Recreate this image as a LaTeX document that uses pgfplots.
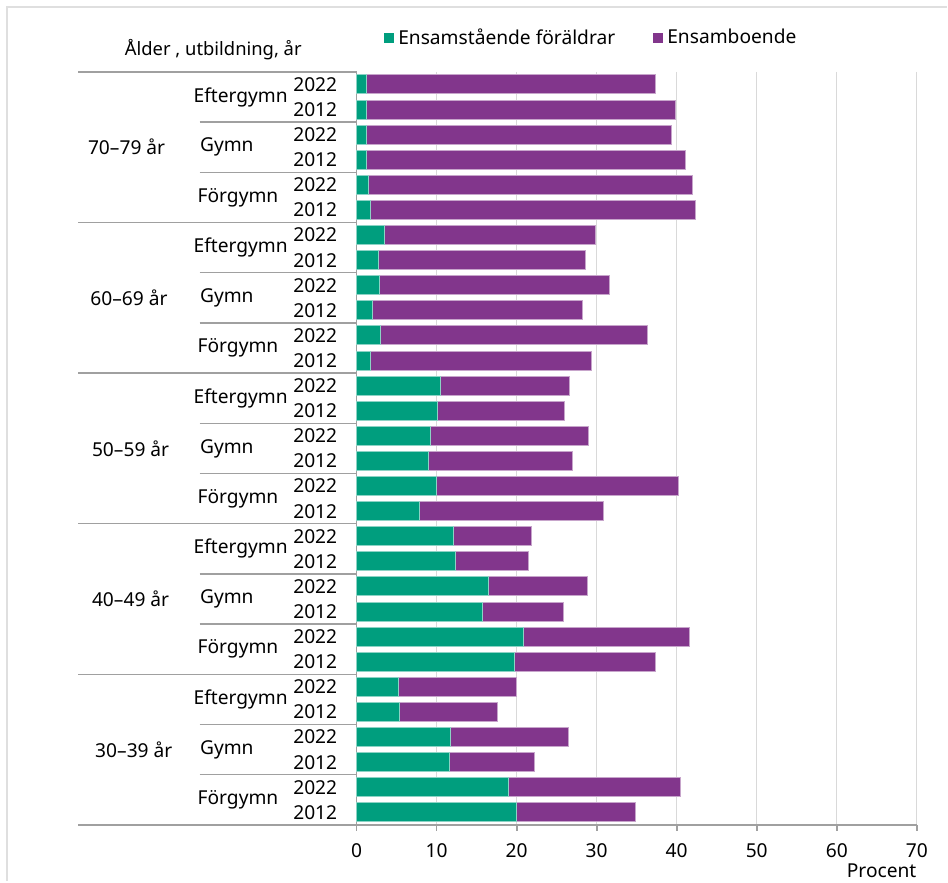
\documentclass[border=0pt]{standalone}
\usepackage{pgfplots}
\pgfplotsset{compat=1.18}
\usepackage{pgfplotstable}
\usepackage{fontspec}
\setmainfont{Noto Sans}

\definecolor{cgreen}{RGB}{0,158,126}
\definecolor{cpurple}{RGB}{130,54,140}
\definecolor{sepgray}{RGB}{160,160,160}
\definecolor{gridgray}{RGB}{217,217,217}

% rows from top: 70-79 Eftergymn 2022 ... 30-39 Forgymn 2012
\pgfplotstableread{
idx g     p
0   1.20  36.20
1   1.20  38.60
2   1.25  38.15
3   1.30  39.80
4   1.45  40.55
5   1.80  40.50
6   3.45  26.45
7   2.70  25.90
8   2.90  28.70
9   2.00  26.25
10  3.00  33.40
11  1.80  27.60
12  10.55 16.05
13  10.10 15.85
14  9.27  19.73
15  8.93  18.07
16  9.93  30.27
17  7.90  23.00
18  12.10 9.80
19  12.40 9.10
20  16.45 12.35
21  15.75 10.05
22  20.80 20.75
23  19.70 17.70
24  5.30  14.70
25  5.40  12.20
26  11.70 14.80
27  11.60 10.60
28  19.00 21.50
29  20.00 14.80
}\data

\begin{document}
\fontsize{9.6bp}{11.5bp}\selectfont
\begin{tikzpicture}
\begin{axis}[
    xbar stacked,
    width=280.5bp, height=377bp,
    scale only axis,
    clip=false,
    bar width=0.76,
    y dir=reverse,
    xmin=0, xmax=70,
    ymin=-0.5, ymax=29.5,
    xtick={0,10,...,70},
    ytick={0,...,29},
    yticklabels={2022,2012,2022,2012,2022,2012,2022,2012,2022,2012,
                 2022,2012,2022,2012,2022,2012,2022,2012,2022,2012,
                 2022,2012,2022,2012,2022,2012,2022,2012,2022,2012},
    axis x line*=bottom,
    axis y line*=left,
    axis line style={sepgray, line width=0.9bp, -},
    xmajorgrids,
    major grid style={gridgray, line width=0.6bp},
    x tick style={sepgray, line width=0.9bp},
    xtick align=outside,
    major tick length=3bp,
    y tick style={draw=none},
    /pgf/number format/assume math mode=true,
    ticklabel style={font=\fontsize{9.6bp}{11.5bp}\selectfont},
    xticklabel style={yshift=-5bp, inner sep=1pt},
    yticklabel style={xshift=-9.5bp, inner sep=0pt},
    xlabel={Procent},
    xlabel style={at={(rel axis cs:1,0)}, anchor=north east, inner sep=0pt, yshift=-19.5bp},
    legend style={at={(0.4207,1.045)}, anchor=center, draw=none, fill=none,
        legend columns=2, font=\fontsize{9.6bp}{11.5bp}\selectfont,
        /tikz/every even column/.append style={column sep=17bp}},
]
\addplot[fill=cgreen, draw=cgreen!45!white, line width=0.5bp,
    legend image code/.code={\fill[cgreen] (0bp,-2.3bp) rectangle (4.6bp,2.3bp);}]
    table[y=idx, x=g] {\data};
\addplot[fill=cpurple, draw=cpurple!45!white, line width=0.5bp,
    legend image code/.code={\fill[cpurple] (0bp,-2.3bp) rectangle (4.6bp,2.3bp);}]
    table[y=idx, x=p] {\data};
\legend{Ensamstående föräldrar, Ensamboende}

% category tree on the left
\pgfplotsinvokeforeach{-0.5,5.5,11.5,17.5,23.5,29.5}{
    \draw[sepgray, line width=0.7bp] (axis cs:-34.8,#1) -- (axis cs:0,#1);
}
\pgfplotsinvokeforeach{1.5,3.5,7.5,9.5,13.5,15.5,19.5,21.5,25.5,27.5}{
    \draw[sepgray, line width=0.7bp] (axis cs:-19.6,#1) -- (axis cs:0,#1);
}
\pgfplotsinvokeforeach{0.5,6.5,12.5,18.5,24.5}{
    \node[anchor=west, inner sep=0pt] at (axis cs:-20.4,#1) {Eftergymn};
}
\pgfplotsinvokeforeach{2.5,8.5,14.5,20.5,26.5}{
    \node[anchor=west, inner sep=0pt] at (axis cs:-19.6,#1) {Gymn};
}
\pgfplotsinvokeforeach{4.5,10.5,16.5,22.5,28.5}{
    \node[anchor=west, inner sep=0pt] at (axis cs:-19.9,#1) {Förgymn};
}
\node[anchor=west, inner sep=0pt] at (axis cs:-33.6,2.5) {70–79 år};
\node[anchor=west, inner sep=0pt] at (axis cs:-33.3,8.5) {60–69 år};
\node[anchor=west, inner sep=0pt] at (axis cs:-33.1,14.5) {50–59 år};
\node[anchor=west, inner sep=0pt] at (axis cs:-33.1,20.5) {40–49 år};
\node[anchor=west, inner sep=0pt] at (axis cs:-32.7,26.5) {30–39 år};
\node[inner sep=0pt, font=\fontsize{9.2bp}{11bp}\selectfont] at (axis cs:-17.9,-1.38) {Ålder , utbildning, år};

% light frame and page size
\draw[gray!25, line width=1.2bp] (axis cs:-43.67,31.73) -- (axis cs:-43.67,-3.087) -- (axis cs:73.75,-3.087);
\path (axis cs:-44.55,-3.365) rectangle (axis cs:73.75,31.73);
\end{axis}
\end{tikzpicture}
\end{document}
